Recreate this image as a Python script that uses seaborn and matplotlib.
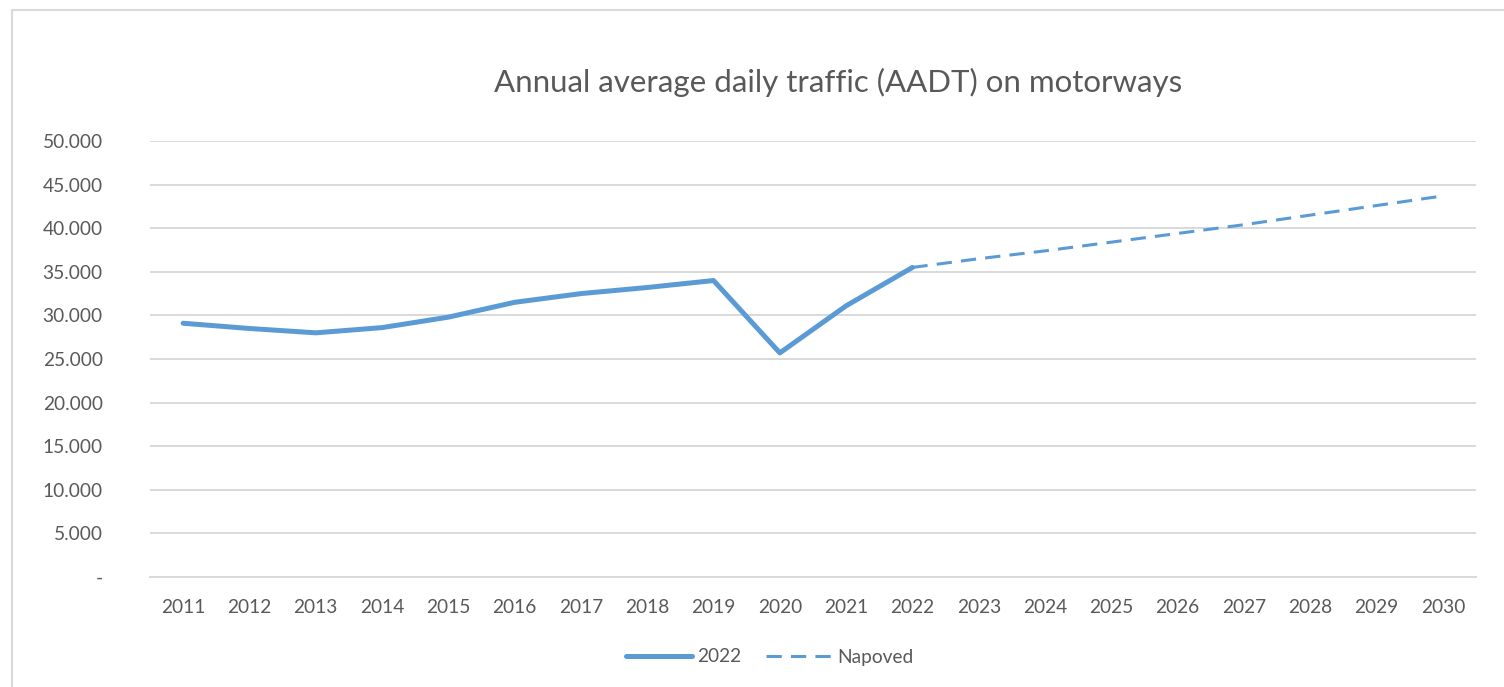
import numpy as np
import pandas as pd
import matplotlib
matplotlib.use('Agg')
import matplotlib.pyplot as plt
from matplotlib.lines import Line2D
from matplotlib.ticker import FuncFormatter
import seaborn as sns

# ==================== DATA ====================
years_actual = [2011, 2012, 2013, 2014, 2015, 2016, 2017, 2018, 2019, 2020, 2021, 2022]
aadt_actual = [29100, 28500, 28000, 28600, 29800, 31500, 32500, 33200, 34000, 25700, 31100, 35500]

years_forecast = [2022, 2023, 2024, 2025, 2026, 2027, 2028, 2029, 2030]
aadt_forecast = [35500, 36500, 37400, 38400, 39400, 40400, 41500, 42600, 43700]

title = "Annual average daily traffic (AADT) on motorways"
label_actual = "2022"
label_forecast = "Napoved"

# ==================== STYLE ====================
line_color = '#5B9BD5'
text_color = '#595959'
grid_color = '#D9D9D9'

sns.set_theme(style='white')
plt.rcParams['font.family'] = ['Lato', 'DejaVu Sans']

df_actual = pd.DataFrame({'year': years_actual, 'aadt': aadt_actual})
df_forecast = pd.DataFrame({'year': years_forecast, 'aadt': aadt_forecast})

fig = plt.figure(figsize=(15.04, 6.87), dpi=100)
ax = fig.add_axes([150 / 1504, 1 - 577 / 687, 1326 / 1504, 436 / 687])

sns.lineplot(data=df_actual, x='year', y='aadt', ax=ax, color=line_color,
             linewidth=3.6, solid_capstyle='round', solid_joinstyle='round')
sns.lineplot(data=df_forecast, x='year', y='aadt', ax=ax, color=line_color,
             linewidth=2.2, dashes=False, linestyle=(0, (5, 3)))

ax.set_xlim(2010.5, 2030.5)
ax.set_ylim(0, 50000)
ax.set_xticks(range(2011, 2031))
ax.set_yticks(np.arange(0, 50001, 5000))
ax.yaxis.set_major_formatter(FuncFormatter(
    lambda v, p: '-' if v == 0 else f"{int(v):,}".replace(',', '.')))

ax.grid(True, axis='y', color=grid_color, linewidth=1.4)
ax.set_axisbelow(True)
for side in ['top', 'right', 'left']:
    ax.spines[side].set_visible(False)
ax.spines['bottom'].set_color(grid_color)
ax.spines['bottom'].set_linewidth(1.4)

ax.tick_params(axis='y', length=0, pad=34, labelsize=13.8, labelcolor=text_color)
ax.tick_params(axis='x', length=0, pad=16, labelsize=13.8, labelcolor=text_color)
ax.set_xlabel('')
ax.set_ylabel('')

fig.text(838 / 1504, 1 - 82 / 687, title, ha='center', va='center',
         fontsize=22.5, color=text_color)

handles = [
    Line2D([0], [0], color=line_color, linewidth=3.6, solid_capstyle='round'),
    Line2D([0], [0], color=line_color, linewidth=2.2, linestyle=(0, (5, 3))),
]
fig.legend(handles, [label_actual, label_forecast], loc='center',
           bbox_to_anchor=(770 / 1504, 1 - 657 / 687), ncol=2, frameon=False,
           fontsize=13.8, labelcolor=text_color, handlelength=3.4,
           columnspacing=1.3, handletextpad=0.3)

# light border of the chart area
fig.add_artist(Line2D([12 / 1504, 12 / 1504], [0, 1 - 10 / 687],
                      transform=fig.transFigure, color=grid_color, linewidth=1.5))
fig.add_artist(Line2D([12 / 1504, 1], [1 - 10 / 687, 1 - 10 / 687],
                      transform=fig.transFigure, color=grid_color, linewidth=1.5))

fig.savefig('out.png', dpi=100)
plt.close(fig)
